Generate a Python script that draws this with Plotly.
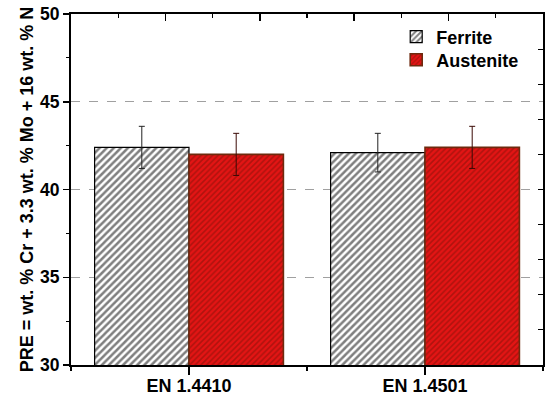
import plotly.graph_objects as go

categories = ["EN 1.4410", "EN 1.4501"]
ferrite = [42.4, 42.1]
ferrite_err = [1.2, 1.1]
austenite = [42.0, 42.4]
austenite_err = [1.2, 1.2]
y_title = "PRE = wt. % Cr + 3.3 wt. % Mo + 16 wt. % N"

FONT = "Liberation Sans, Arial, sans-serif"
xpos = list(range(len(categories)))

fig = go.Figure()
fig.add_trace(go.Bar(
    name="Ferrite", x=xpos, y=ferrite, base=0, legend="legend",
    marker=dict(color="white", line=dict(color="black", width=1.2),
                pattern=dict(shape="/", fgcolor="#000000", bgcolor="white",
                             size=5, solidity=0.5)),
    error_y=dict(type="data", array=ferrite_err, color="#222222",
                 thickness=1, width=3),
))
fig.add_trace(go.Bar(
    name="Austenite", x=xpos, y=austenite, base=0, legend="legend2",
    marker=dict(color="#e01010", line=dict(color="#6e2a0e", width=1.6),
                pattern=dict(shape="/", fgcolor="#7a1208", bgcolor="#e41414",
                             size=4, solidity=0.4)),
    error_y=dict(type="data", array=austenite_err, color="#3a0a05",
                 thickness=1, width=3),
))
# helper trace so the mirrored top/right axes render
fig.add_trace(go.Scatter(x=[None], y=[None], xaxis="x2", yaxis="y2",
                         showlegend=False, hoverinfo="skip"))

legend_style = dict(xanchor="left", yanchor="middle",
                    bgcolor="rgba(0,0,0,0)", borderwidth=0,
                    font=dict(family=FONT, size=18, weight="bold", color="black"),
                    itemwidth=30)

fig.update_layout(
    width=550, height=396,
    margin=dict(l=71, r=7, t=14, b=31, autoexpand=False),
    paper_bgcolor="white", plot_bgcolor="white",
    barmode="group", bargap=0.2, bargroupgap=0,
    font=dict(family=FONT, color="black"),
    showlegend=True,
    legend=dict(x=0.689, y=(365 - 37) / 351, **legend_style),
    legend2=dict(x=0.689, y=(365 - 60) / 351, **legend_style),
    xaxis=dict(range=[-0.5, 1.5], tickmode="array", tickvals=xpos,
               ticktext=categories, ticks="outside", ticklen=8, tickwidth=1.5,
               tickcolor="black", showline=True, linecolor="black", linewidth=2,
               showgrid=False, zeroline=False, automargin=False,
               ticklabelstandoff=-5,
               tickfont=dict(family=FONT, size=18, weight="bold", color="black"),
               minor=dict(tickvals=[-0.5, 0.5, 1.5], ticks="outside", ticklen=4,
                          tickwidth=1.2, tickcolor="black", showgrid=False)),
    yaxis=dict(range=[30, 50], dtick=5, tick0=30, ticks="outside", ticklen=6,
               tickwidth=1.5, tickcolor="black", showline=True,
               linecolor="black", linewidth=2, zeroline=False, automargin=False,
               showgrid=True, gridcolor="#a0a0a0", griddash="dash", gridwidth=1,
               tickfont=dict(family=FONT, size=17.5, weight="bold", color="black"),
               title=dict(text=y_title, standoff=2,
                          font=dict(family=FONT, size=18, weight="bold",
                                    color="black")),
               minor=dict(dtick=2.5, ticks="outside", ticklen=3, tickwidth=1.2,
                          tickcolor="black", showgrid=False)),
    xaxis2=dict(overlaying="x", side="top", anchor="y", range=[0, 10],
                dtick=2, tick0=0, ticks="inside", ticklen=7, tickwidth=1.5,
                tickcolor="black", showticklabels=False, showline=True,
                linecolor="black", linewidth=2, showgrid=False, zeroline=False,
                automargin=False,
                minor=dict(dtick=1, ticks="inside", ticklen=4, tickwidth=1.2,
                           tickcolor="black", showgrid=False)),
    yaxis2=dict(overlaying="y", side="right", anchor="x", range=[30, 50],
                dtick=2, tick0=30, ticks="inside", ticklen=5, tickwidth=1.2,
                tickcolor="black", showticklabels=False, showline=True,
                linecolor="black", linewidth=2, showgrid=False, zeroline=False,
                automargin=False),
)

fig.write_html(
    "out.html",
    config={"displayModeBar": False, "staticPlot": True},
    post_script="document.body.style.margin='0';"
                "document.body.style.overflow='hidden';",
)
